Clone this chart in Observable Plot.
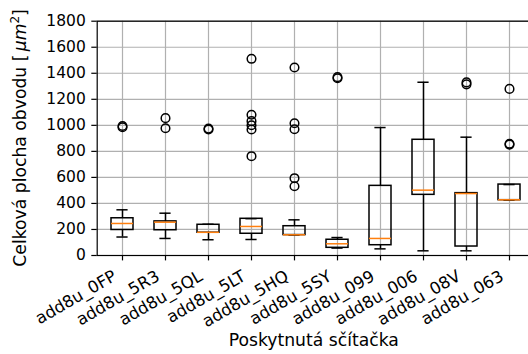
<!DOCTYPE html>
<html>
<head>
<meta charset="utf-8">
<script src="https://cdn.jsdelivr.net/npm/d3@7"></script>
<script src="https://cdn.jsdelivr.net/npm/@observablehq/plot@0.6"></script>
<style>
  html, body { margin: 0; padding: 0; background: white; overflow: hidden; }
  #chart svg { display: block; }
</style>
</head>
<body>
<div id="chart"></div>
<script>
const categories = ["add8u_0FP","add8u_5R3","add8u_5QL","add8u_5LT","add8u_5HQ","add8u_5SY","add8u_099","add8u_006","add8u_08V","add8u_063"];
const whiskerLow  = [142, 131, 121, 123, 157,  57,  51,   36,  36, 425];
const q1          = [196, 194, 175, 167, 157,  59,  79,  466,  69, 425];
const median      = [246, 256, 178, 223, 159,  90, 131,  502, 476, 428];
const q3          = [286, 262, 236, 282, 225, 121, 535,  889, 479, 545];
const whiskerHigh = [351, 325, 240, 283, 274, 138, 983, 1331, 909, 545];
const outliers = [
  [985, 995],
  [978, 1055],
  [968, 975],
  [763, 968, 1001, 1032, 1081, 1511],
  [532, 594, 970, 1016, 1444],
  [1362, 1370],
  [],
  [],
  [1315, 1330],
  [852, 858, 1280]
];
const yTicks = [0, 200, 400, 600, 800, 1000, 1200, 1400, 1600, 1800];
const xTitle = "Poskytnutá sčítačka";
const yTitleMain = "Celková plocha obvodu [\u2009";
const yTitleUnit = "μm";
const yTitleExp = "2";

const boxes = categories.map((c, i) => ({
  cat: c, lo: whiskerLow[i], q1: q1[i], med: median[i], q3: q3[i], hi: whiskerHigh[i]
}));
const fliers = categories.flatMap((c, i) => outliers[i].map(v => ({cat: c, v})));

const W = 528, H = 354;
const lw = 1.5;

const chart = Plot.plot({
  width: W,
  height: H,
  marginLeft: 96.7,
  marginRight: -5.3,
  marginTop: 20.7,
  marginBottom: 99,
  style: {fontFamily: "DejaVu Sans", fontSize: "15.5px", color: "black", background: "white"},
  x: {type: "band", domain: categories, paddingInner: 0.5, paddingOuter: 0.306, align: 0.5, label: null},
  y: {domain: [0, 1800], label: null},
  marks: [
    Plot.gridY(yTicks, {stroke: "#b0b0b0", strokeOpacity: 1, strokeWidth: 1.2}),
    Plot.gridX(categories, {stroke: "#b0b0b0", strokeOpacity: 1, strokeWidth: 1.2}),
    Plot.ruleX(boxes, {x: "cat", y1: "lo", y2: "q1", stroke: "black", strokeWidth: lw}),
    Plot.ruleX(boxes, {x: "cat", y1: "q3", y2: "hi", stroke: "black", strokeWidth: lw}),
    Plot.tickY(boxes, {x: "cat", y: "lo", stroke: "black", strokeWidth: lw, insetLeft: 5.4, insetRight: 5.4}),
    Plot.tickY(boxes, {x: "cat", y: "hi", stroke: "black", strokeWidth: lw, insetLeft: 5.4, insetRight: 5.4}),
    Plot.barY(boxes, {x: "cat", y1: "q1", y2: "q3", fill: "none", stroke: "black", strokeWidth: lw}),
    Plot.tickY(boxes, {x: "cat", y: "med", stroke: "#ff7f0e", strokeWidth: lw}),
    Plot.dot(fliers, {x: "cat", y: "v", r: 4.3, fill: "none", stroke: "black", strokeWidth: lw}),
    Plot.axisY({ticks: yTicks, tickFormat: d => String(d), tickSize: 5.4, tickPadding: 6, fontSize: 15.5, label: null, strokeWidth: 1.2}),
    Plot.axisX({tickSize: 5.4, tickFormat: () => "", label: null, strokeWidth: 1.2}),
    Plot.text(categories, {x: d => d, text: d => d, frameAnchor: "bottom", rotate: -30,
      textAnchor: "end", lineAnchor: "middle", dx: -7.4, dy: 19.3, fontSize: 16.5, fill: "black"}),
    Plot.frame({stroke: "black", strokeWidth: 1.2})
  ]
});

document.getElementById("chart").appendChild(chart);

const svg = d3.select(chart);
svg.append("text")
  .attr("x", 313.8).attr("y", 346)
  .attr("text-anchor", "middle")
  .attr("font-family", "DejaVu Sans")
  .attr("font-size", 17.2)
  .attr("fill", "black")
  .text(xTitle);

const yl = svg.append("text")
  .attr("transform", "translate(25.5,137.9) rotate(-90)")
  .attr("text-anchor", "middle")
  .attr("font-family", "DejaVu Sans")
  .attr("font-size", 17.2)
  .attr("fill", "black");
yl.append("tspan").text(yTitleMain);
yl.append("tspan").attr("font-style", "italic").text(yTitleUnit);
yl.append("tspan").attr("font-size", 12).attr("dy", -7).text(yTitleExp);
yl.append("tspan").attr("dy", 7).text("]");
</script>
</body>
</html>
